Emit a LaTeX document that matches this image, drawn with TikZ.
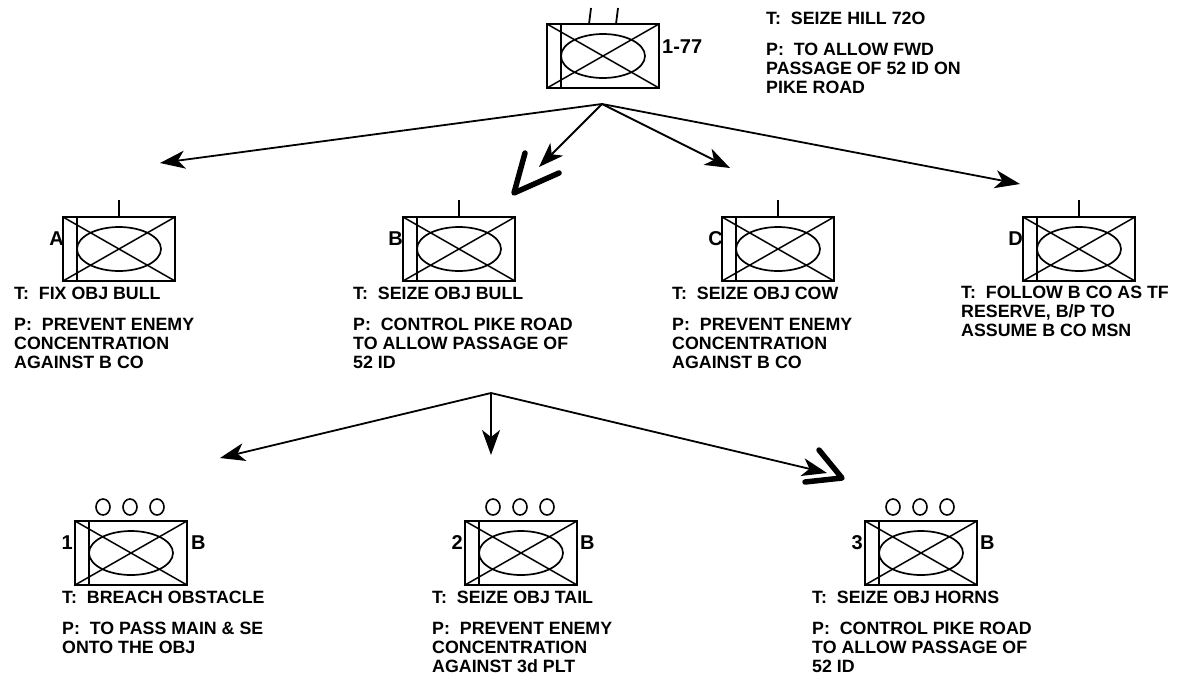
\documentclass[tikz,border=0pt]{standalone}
\usepackage{fontspec}
\setmainfont{Liberation Sans}
\usetikzlibrary{arrows.meta}
\tikzset{
  frame/.pic={
    \draw[line width=1.5pt] (-56,-32) -- (56,32) (-56,32) -- (56,-32);
    \draw[line width=1.7pt] (0,0) ellipse [x radius=42, y radius=22];
    \draw[line width=2pt] (-42,-32) -- (-42,32);
    \draw[line width=2.8pt] (-56,-32) rectangle (56,32);
  },
  bnunit/.pic={
    \pic {frame};
    \draw[line width=1.8pt] (-14,-32) -- (-12,-48) (13,-32) -- (15,-48);
  },
  counit/.pic={
    \pic {frame};
    \draw[line width=1.8pt] (0,-32) -- (0,-49);
  },
  pltunit/.pic={
    \pic {frame};
    \foreach \cx in {-28,-1,26}
      \draw[line width=1.6pt] (\cx,-46) ellipse [x radius=7, y radius=8];
  },
}
\begin{document}
\begin{tikzpicture}[x=1pt,y=-1pt,
  txt/.style={font=\fontsize{17.8}{19}\selectfont\bfseries, inner sep=0pt, align=left},
  lbl/.style={font=\fontsize{20}{22}\selectfont\bfseries, inner sep=0pt},
  conn/.style={line width=1.8pt, -{Stealth[length=25pt,width=18pt,inset=7pt]}},
  chev/.style={line width=5.5pt, line cap=round, line join=round}]
\useasboundingbox (0,0) rectangle (1178,683);

% unit positions
\coordinate (bn) at (603,56);
\coordinate (coA) at (119,249);
\coordinate (coB) at (459,249);
\coordinate (coC) at (778,249);
\coordinate (coD) at (1079,249);
\coordinate (p1) at (131,553);
\coordinate (p2) at (521,553);
\coordinate (p3) at (921,553);

\pic at (bn) {bnunit};
\pic at (coA) {counit};
\pic at (coB) {counit};
\pic at (coC) {counit};
\pic at (coD) {counit};
\pic at (p1) {pltunit};
\pic at (p2) {pltunit};
\pic at (p3) {pltunit};

% unit labels
\node[lbl, anchor=base west] (lbn) at (662,53) {1-77};
\node[lbl, anchor=base east] (lA) at (64,245) {A};
\node[lbl, anchor=base east] (lB) at (403,245) {B};
\node[lbl, anchor=base east] (lC) at (723,245) {C};
\node[lbl, anchor=base east] (lD) at (1023,245) {D};
\node[lbl, anchor=base east] (l1) at (73,549) {1};
\node[lbl, anchor=base west] (l1b) at (191,549) {B};
\node[lbl, anchor=base east] (l2) at (463,549) {2};
\node[lbl, anchor=base west] (l2b) at (580,549) {B};
\node[lbl, anchor=base east] (l3) at (863,549) {3};
\node[lbl, anchor=base west] (l3b) at (980,549) {B};

% task / purpose texts
\node[txt, anchor=base west] (tbn) at (766,24) {T:\ \ SEIZE HILL 72O};
\node[txt, anchor=north west] (pbn) at (766,43.3) {P:\ \ TO ALLOW FWD\\PASSAGE OF 52 ID ON\\PIKE ROAD};

\node[txt, anchor=base west] (tA) at (14,299) {T:\ \ FIX OBJ BULL};
\node[txt, anchor=north west] (pA) at (14,318.3) {P:\ \ PREVENT ENEMY\\CONCENTRATION\\AGAINST B CO};

\node[txt, anchor=base west] (tB) at (353,299) {T:\ \ SEIZE OBJ BULL};
\node[txt, anchor=north west] (pB) at (353,318.3) {P:\ \ CONTROL PIKE ROAD\\TO ALLOW PASSAGE OF\\52 ID};

\node[txt, anchor=base west] (tC) at (672,299) {T:\ \ SEIZE OBJ COW};
\node[txt, anchor=north west] (pC) at (672,318.3) {P:\ \ PREVENT ENEMY\\CONCENTRATION\\AGAINST B CO};

\node[txt, anchor=north west] (tD) at (961,286.3) {T:\ \ FOLLOW B CO AS TF\\RESERVE, B/P TO\\ASSUME B CO MSN};

\node[txt, anchor=base west] (t1) at (62,603) {T:\ \ BREACH OBSTACLE};
\node[txt, anchor=north west] (q1) at (62,622.3) {P:\ \ TO PASS MAIN \& SE\\ONTO THE OBJ};

\node[txt, anchor=base west] (t2) at (432,603) {T:\ \ SEIZE OBJ TAIL};
\node[txt, anchor=north west] (q2) at (432,622.3) {P:\ \ PREVENT ENEMY\\CONCENTRATION\\AGAINST 3d PLT};

\node[txt, anchor=base west] (t3) at (812,603) {T:\ \ SEIZE OBJ HORNS};
\node[txt, anchor=north west] (q3) at (812,622.3) {P:\ \ CONTROL PIKE ROAD\\TO ALLOW PASSAGE OF\\52 ID};

% connectors
\coordinate (o1) at (602,104);
\coordinate (aA) at (160,163);
\coordinate (aB) at (539,167);
\coordinate (aC) at (730,168);
\coordinate (aD) at (1020,184);
\draw[conn] (o1) -- (aA);
\draw[conn] (o1) -- (aB);
\draw[conn] (o1) -- (aC);
\draw[conn] (o1) -- (aD);
\coordinate (vB) at (514,193);
\coordinate (vB1) at (525,153);
\coordinate (vB2) at (559,173);
\draw[chev] (vB1) -- (vB) -- (vB2);

\coordinate (o2) at (491,393);
\coordinate (a1) at (220,458);
\coordinate (a2) at (491,455);
\coordinate (a3) at (827,473);
\draw[conn] (o2) -- (a1);
\draw[conn] (o2) -- (a2);
\draw[conn] (o2) -- (a3);
\coordinate (v3) at (842,478);
\coordinate (v31) at (819,450);
\coordinate (v32) at (805,482);
\draw[chev] (v31) -- (v3) -- (v32);
\end{tikzpicture}
\end{document}
